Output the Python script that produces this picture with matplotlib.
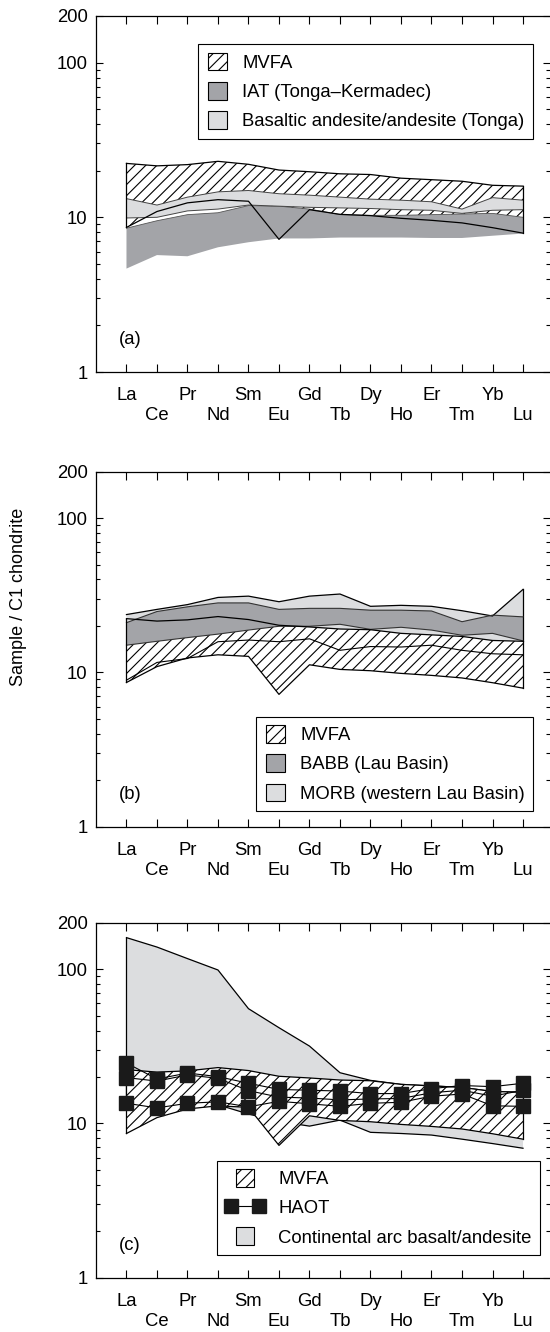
import numpy as np
import matplotlib.pyplot as plt
import matplotlib.patches as mpatches
from matplotlib.lines import Line2D
from matplotlib.legend_handler import HandlerPatch

plt.rcParams['font.family'] = ['Liberation Sans', 'DejaVu Sans']
plt.rcParams['hatch.linewidth'] = 0.8

ree = ["La", "Ce", "Pr", "Nd", "Sm", "Eu", "Gd", "Tb", "Dy", "Ho", "Er", "Tm", "Yb", "Lu"]
x = np.arange(len(ree))

# MVFA envelope (same in all panels)
mvfa_top = [22.3, 21.5, 21.9, 23.0, 22.0, 20.2, 19.7, 19.1, 18.9, 17.9, 17.5, 17.1, 16.1, 15.9]
mvfa_bot = [8.6, 10.9, 12.4, 13.0, 12.7, 7.2, 11.2, 10.45, 10.25, 9.85, 9.56, 9.2, 8.57, 7.9]

# (a) IAT and Tonga basaltic andesite/andesite
iat_top = [8.5, 9.5, 10.4, 10.7, 11.9, 11.8, 11.3, 10.4, 10.3, 10.3, 10.4, 10.5, 10.6, 10.0]
iat_bot = [4.66, 5.7, 5.6, 6.4, 6.9, 7.3, 7.3, 7.4, 7.4, 7.4, 7.35, 7.35, 7.6, 7.85]
tba_top = [13.2, 12.0, 13.5, 14.6, 14.9, 14.2, 13.9, 13.5, 13.1, 12.9, 12.6, 11.3, 13.4, 12.9]
tba_bot = [9.9, 10.0, 11.0, 11.3, 12.0, 11.8, 11.6, 11.5, 11.4, 11.2, 11.1, 10.6, 11.1, 11.2]

# (b) BABB and MORB (Lau Basin)
morb_top = [23.7, 25.6, 27.5, 30.6, 31.2, 28.7, 31.2, 32.2, 26.8, 27.2, 26.8, 25.1, 23.2, 34.5]
morb_bot = [19.0, 19.0, 19.0, 19.0, 19.0, 19.9, 19.5, 19.1, 18.9, 17.9, 17.5, 17.1, 16.1, 15.9]
babb_top = [21.0, 24.8, 26.6, 28.2, 28.2, 25.6, 26.0, 26.0, 25.3, 25.3, 25.0, 21.3, 23.5, 22.9]
babb_bot = [15.0, 15.9, 16.8, 17.7, 18.8, 19.9, 19.9, 20.5, 19.0, 19.6, 18.8, 17.4, 17.9, 16.0]
mvfa_mid = [8.9, 11.6, 12.3, 15.8, 16.2, 15.8, 16.5, 13.9, 14.7, 14.6, 15.0, 13.9, 13.2, 13.0]

# (c) continental arc basalt/andesite and HAOT
cab_top = [160.0, 139.0, 117.0, 98.7, 55.4, 41.7, 31.7, 21.3, 19.0, 17.9, 17.5, 17.1, 16.1, 15.9]
cab_bot = [13.0, 13.0, 13.0, 13.2, 11.5, 10.3, 9.6, 10.5, 8.75, 8.6, 8.4, 7.9, 7.4, 6.9]
haot_1 = [24.6, 19.4, 21.2, 20.1, 18.2, 16.6, 16.4, 16.2, 15.6, 15.6, 16.8, 17.6, 17.3, 18.2]
haot_2 = [19.8, 18.8, 20.6, 19.6, 16.3, 14.8, 14.6, 14.2, 14.4, 14.5, 15.8, 16.4, 15.0, 16.4]
haot_3 = [13.5, 12.6, 13.5, 13.8, 12.8, 13.9, 13.4, 12.9, 13.5, 13.7, 15.0, 15.5, 13.0, 12.9]

dark = '#a3a4a8'
light = '#dcdddf'


def small_box(legend, orig_handle, xdescent, ydescent, width, height, fontsize):
    w = height * 1.05
    return mpatches.Rectangle((width / 2 - w / 2 - xdescent, -ydescent), w, height)


def setup(ax, tag):
    ax.set_yscale('log')
    ax.set_ylim(1, 200)
    ax.set_xlim(-1, 13.885)
    ax.set_yticks([1, 10, 100, 200])
    ax.set_yticklabels(['1', '10', '100', '200'])
    ax.set_yticks([2, 3, 4, 5, 6, 7, 8, 9, 20, 30, 40, 50, 60, 70, 80, 90], minor=True)
    ax.yaxis.set_minor_formatter(plt.NullFormatter())
    ax.set_xticks(x)
    ax.set_xticklabels([r if i % 2 == 0 else "\n" + r for i, r in enumerate(ree)])
    ax.tick_params(axis='x', which='both', direction='in', top=True, bottom=True,
                   length=6, width=0.8, labelsize=13.3, pad=11)
    ax.tick_params(axis='y', which='major', direction='in', left=True, right=True,
                   length=5, width=0.8, labelsize=13.3, pad=6)
    ax.tick_params(axis='y', which='minor', direction='in', left=True, right=True,
                   length=3, width=0.8)
    for s in ['left', 'top', 'bottom']:
        ax.spines[s].set_linewidth(0.9)
    ax.spines['right'].set_visible(False)
    ax.text(0.075, 0.09, tag, transform=ax.transAxes, fontsize=13.3, ha='center', va='center')


def mvfa(ax, face='white', z=1):
    ax.fill_between(x, mvfa_bot, mvfa_top, facecolor=face, edgecolor='black',
                    hatch='///', linewidth=0, zorder=z)


def mvfa_outline(ax, z=5):
    ax.plot(x, mvfa_top, color='black', lw=0.9, zorder=z)
    ax.plot(x, mvfa_bot, color='black', lw=0.9, zorder=z)
    ax.plot([x[0], x[0]], [mvfa_bot[0], mvfa_top[0]], color='black', lw=0.9, zorder=z)
    ax.plot([x[-1], x[-1]], [mvfa_bot[-1], mvfa_top[-1]], color='black', lw=0.9, zorder=z)


fig = plt.figure(figsize=(5.5, 13.32), dpi=100)
ax_a = fig.add_axes([0.1745, 0.7207, 0.8255, 0.2673])
ax_b = fig.add_axes([0.1745, 0.3794, 0.8255, 0.2665])
ax_c = fig.add_axes([0.1745, 0.0408, 0.8255, 0.2665])

hmap = {mpatches.Patch: HandlerPatch(patch_func=small_box)}
leg_kw = dict(fontsize=13.3, frameon=True, fancybox=False, edgecolor='black', framealpha=1,
              handlelength=1.2, handleheight=1.1, handletextpad=0.75, labelspacing=0.55,
              borderpad=0.45, borderaxespad=0)

# ---- (a)
mvfa(ax_a)
ax_a.fill_between(x, iat_bot, iat_top, facecolor=dark, edgecolor='none', zorder=2)
ax_a.plot(x, iat_top, color='#555555', lw=0.6, zorder=2)
ax_a.fill_between(x, tba_bot, tba_top, facecolor=light, edgecolor='none', zorder=3)
ax_a.plot(x, tba_top, color='#444444', lw=0.7, zorder=3)
ax_a.plot(x, tba_bot, color='#444444', lw=0.7, zorder=3)
mvfa_outline(ax_a)
setup(ax_a, '(a)')
h = [mpatches.Patch(facecolor='white', edgecolor='black', hatch='///', lw=0.8),
     mpatches.Patch(facecolor=dark, edgecolor='black', lw=0.8),
     mpatches.Patch(facecolor=light, edgecolor='black', lw=0.8)]
lg = ax_a.legend(h, ['MVFA', 'IAT (Tonga\u2013Kermadec)', 'Basaltic andesite/andesite (Tonga)'],
                 loc='upper right', bbox_to_anchor=(0.962, 0.9205), handler_map=hmap, **leg_kw)
lg.get_frame().set_linewidth(0.8)

# ---- (b)
mvfa(ax_b)
ax_b.plot(x, mvfa_mid, color='black', lw=0.8, zorder=1.5)
ax_b.fill_between(x, morb_bot, morb_top, facecolor=light, edgecolor='none', zorder=2)
ax_b.plot(x, morb_top, color='black', lw=0.9, zorder=4)
ax_b.plot([x[-1], x[-1]], [morb_bot[-1], morb_top[-1]], color='black', lw=0.9, zorder=4)
ax_b.fill_between(x, babb_bot, babb_top, facecolor=dark, edgecolor='none', zorder=3)
ax_b.plot(x, babb_top, color='#333333', lw=0.8, zorder=4)
ax_b.plot(x, babb_bot, color='#333333', lw=0.8, zorder=4)
mvfa_outline(ax_b)
setup(ax_b, '(b)')
h = [mpatches.Patch(facecolor='white', edgecolor='black', hatch='///', lw=0.8),
     mpatches.Patch(facecolor=dark, edgecolor='black', lw=0.8),
     mpatches.Patch(facecolor=light, edgecolor='black', lw=0.8)]
lg = ax_b.legend(h, ['MVFA', 'BABB (Lau Basin)', 'MORB (western Lau Basin)'],
                 loc='upper right', bbox_to_anchor=(0.963, 0.310), handler_map=hmap, **leg_kw)
lg.get_frame().set_linewidth(0.8)

# ---- (c)
ax_c.fill_between(x, cab_bot, cab_top, facecolor=light, edgecolor='none', zorder=1)
ax_c.plot(x, cab_top, color='black', lw=0.9, zorder=1)
ax_c.plot(x, cab_bot, color='black', lw=0.9, zorder=1)
ax_c.plot([x[0], x[0]], [cab_bot[0], cab_top[0]], color='black', lw=0.9, zorder=1)
mvfa(ax_c, z=2)
mvfa_outline(ax_c, z=3)
for s in [haot_1, haot_2, haot_3]:
    ax_c.plot(x, s, color='black', lw=0.8, marker='s', ms=9.5, mfc='#1a1a1a', mec='#1a1a1a', zorder=6)
setup(ax_c, '(c)')
h = [mpatches.Patch(facecolor='white', edgecolor='black', hatch='///', lw=0.8),
     Line2D([], [], color='black', lw=0.8, marker='s', ms=9.5, mfc='#1a1a1a', mec='#1a1a1a'),
     mpatches.Patch(facecolor=light, edgecolor='black', lw=0.8)]
kw = dict(leg_kw)
kw['handlelength'] = 2.1
lg = ax_c.legend(h, ['MVFA', 'HAOT', 'Continental arc basalt/andesite'], numpoints=2,
                 loc='upper right', bbox_to_anchor=(0.978, 0.330), handler_map=hmap, **kw)
lg.get_frame().set_linewidth(0.8)

fig.text(0.033, 1 - 597 / 1332, 'Sample / C1 chondrite', rotation=90, fontsize=13,
         ha='center', va='center')

fig.savefig('out.png', dpi=100)
